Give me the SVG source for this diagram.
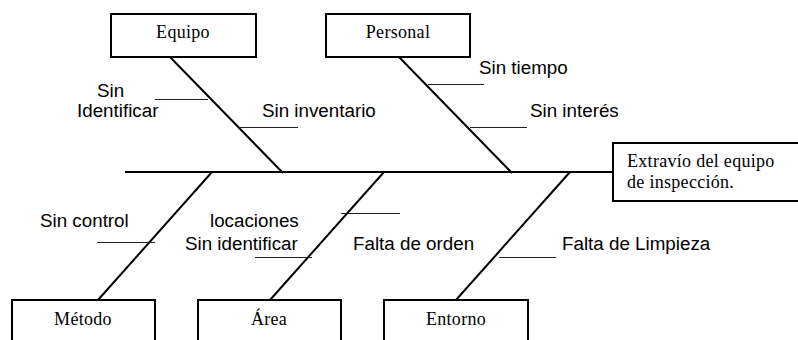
<svg xmlns="http://www.w3.org/2000/svg" width="798" height="340" viewBox="0 0 798 340">
<style>
.box{fill:#fff;stroke:#000;stroke-width:2}
.bone{stroke:#000;stroke-width:2;fill:none}
.sub{stroke:#222;stroke-width:1;fill:none}
.bt{font-family:"Liberation Serif","Times New Roman",serif;font-size:18px;fill:#000;text-anchor:middle;letter-spacing:0.3px}
.et{font-family:"Liberation Serif","Times New Roman",serif;font-size:18px;fill:#000;letter-spacing:0.3px}
.lt{font-family:"Liberation Sans",Arial,sans-serif;font-size:18.8px;fill:#000}
</style>
<rect width="798" height="340" fill="#fff"/>
<g id="connectors">
<line class="bone" x1="125" y1="172" x2="613" y2="172"/>
<line class="bone" x1="170" y1="57" x2="283" y2="173"/>
<line class="bone" x1="399" y1="57" x2="512" y2="173"/>
<line class="bone" x1="212" y1="172" x2="98" y2="300"/>
<line class="bone" x1="384" y1="172" x2="270" y2="300"/>
<line class="bone" x1="570" y1="172" x2="456" y2="300"/>
<line class="sub" x1="155" y1="99.5" x2="208" y2="99.5"/>
<line class="sub" x1="240" y1="127.5" x2="298" y2="127.5"/>
<line class="sub" x1="428" y1="84.5" x2="484" y2="84.5"/>
<line class="sub" x1="470" y1="127.5" x2="527" y2="127.5"/>
<line class="sub" x1="97" y1="242.5" x2="155" y2="242.5"/>
<line class="sub" x1="341" y1="213.5" x2="400" y2="213.5"/>
<line class="sub" x1="255" y1="257.5" x2="312" y2="257.5"/>
<line class="sub" x1="499" y1="257.5" x2="556" y2="257.5"/>
</g>
<g id="labels">
<text class="lt" x="97" y="97">Sin</text>
<text class="lt" x="77" y="117">Identificar</text>
<text class="lt" x="262" y="117">Sin inventario</text>
<text class="lt" x="479" y="74">Sin tiempo</text>
<text class="lt" x="530" y="117">Sin interés</text>
<text class="lt" x="40" y="227">Sin control</text>
<text class="lt" x="210" y="227">locaciones</text>
<text class="lt" x="185" y="250">Sin identificar</text>
<text class="lt" x="353" y="250">Falta de orden</text>
<text class="lt" x="562" y="250">Falta de Limpieza</text>
</g>
<g id="equipo"><rect class="box" x="111" y="14" width="145" height="43"/><text class="bt" x="183" y="38">Equipo</text></g>
<g id="personal"><rect class="box" x="326" y="14" width="144" height="43"/><text class="bt" x="398" y="38">Personal</text></g>
<g id="efecto"><rect class="box" x="613" y="143" width="200" height="58"/><text class="et" x="627" y="167">Extravío del equipo</text><text class="et" x="627" y="188">de inspección.</text></g>
<g id="metodo"><rect class="box" x="12" y="300" width="143" height="60"/><text class="bt" x="83" y="325">Método</text></g>
<g id="area"><rect class="box" x="198" y="300" width="143" height="60"/><text class="bt" x="269" y="325">Área</text></g>
<g id="entorno"><rect class="box" x="384" y="300" width="144" height="60"/><text class="bt" x="456" y="325">Entorno</text></g>
</svg>
